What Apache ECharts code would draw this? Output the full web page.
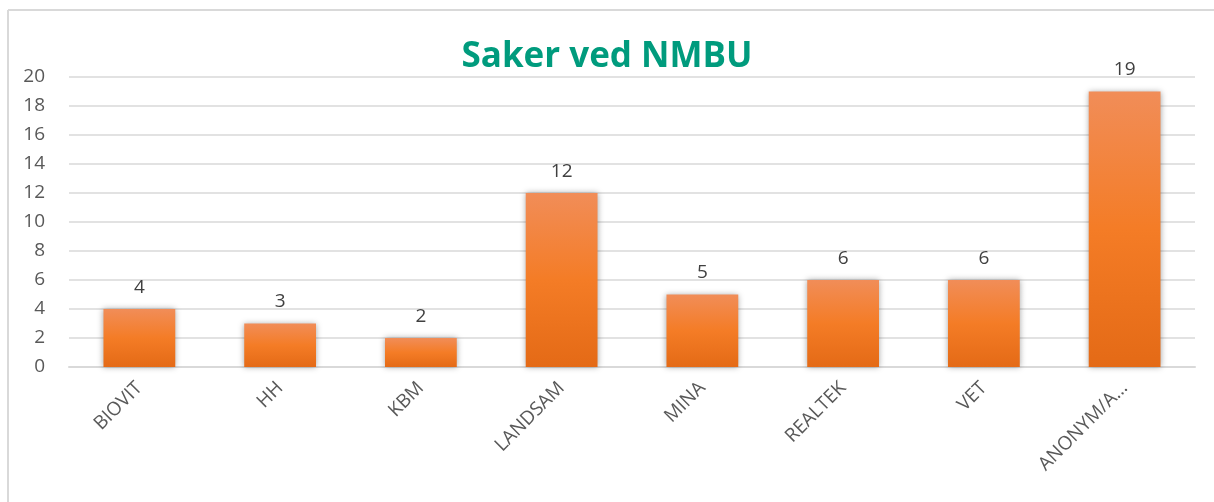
<!DOCTYPE html>
<html>
<head>
<meta charset="utf-8">
<style>
  html, body { margin: 0; padding: 0; background: #fff; }
  #chart { width: 1214px; height: 502px; }
</style>
<script src="https://cdn.jsdelivr.net/npm/echarts@6/dist/echarts.min.js"></script>
</head>
<body>
<div id="chart"></div>
<script>
// data
const categories = ['BIOVIT', 'HH', 'KBM', 'LANDSAM', 'MINA', 'REALTEK', 'VET', 'ANONYM/A…'];
const saker = [4, 3, 2, 12, 5, 6, 6, 19];
const yTicks = [0, 20, 2];   // min, max, interval

const chart = echarts.init(document.getElementById('chart'));

const option = {
  backgroundColor: '#fff',
  animation: false,
  title: {
    text: 'Saker ved NMBU',
    left: 'center',
    top: 35,
    textStyle: {
      color: '#009B7D',
      fontFamily: 'Open Sans',
      fontWeight: 'bold',
      fontSize: 35
    }
  },
  // ytre ramme (bare topp og venstre synlig)
  graphic: [
    { type: 'line', shape: { x1: 8, y1: 10, x2: 1214, y2: 10 }, style: { stroke: '#d9d9d9', lineWidth: 2 } },
    { type: 'line', shape: { x1: 8, y1: 10, x2: 8, y2: 502 }, style: { stroke: '#d9d9d9', lineWidth: 2 } }
  ],
  grid: { left: 69, right: 19, top: 77, bottom: 135, containLabel: false },
  xAxis: {
    type: 'category',
    data: categories,
    axisTick: { show: false },
    axisLine: { lineStyle: { color: '#d9d9d9', width: 2 } },
    axisLabel: {
      rotate: 45,
      margin: 18,
      interval: 0,
      color: '#595959',
      fontFamily: 'Open Sans',
      fontSize: 19
    }
  },
  yAxis: {
    type: 'value',
    min: yTicks[0],
    max: yTicks[1],
    interval: yTicks[2],
    axisLine: { show: false },
    axisTick: { show: false },
    axisLabel: {
      margin: 24,
      color: '#595959',
      fontFamily: 'Open Sans',
      fontSize: 19
    },
    splitLine: { lineStyle: { color: '#d9d9d9', width: 1.5 } }
  },
  series: [{
    type: 'bar',
    data: saker,
    barWidth: '51%',
    itemStyle: {
      color: new echarts.graphic.LinearGradient(0, 0, 0, 1, [
        { offset: 0, color: '#F18D58' },
        { offset: 0.5, color: '#F47C26' },
        { offset: 1, color: '#E46A16' }
      ]),
      shadowColor: 'rgba(0,0,0,0.35)',
      shadowBlur: 6
    },
    label: {
      show: true,
      position: 'top',
      distance: 12,
      color: '#404040',
      fontFamily: 'Open Sans',
      fontSize: 19
    }
  }]
};

chart.setOption(option);
window.addEventListener('resize', () => chart.resize());
</script>
</body>
</html>
